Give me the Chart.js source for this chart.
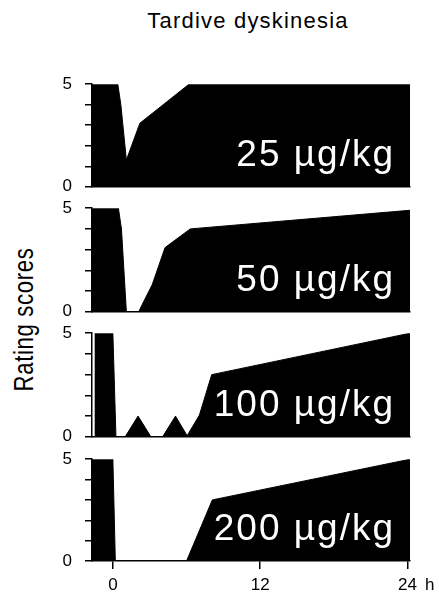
<!DOCTYPE html>
<html><head><meta charset="utf-8">
<script src="https://cdn.jsdelivr.net/npm/chart.js@4/dist/chart.umd.min.js"></script>
<style>
body{margin:0;background:#fff;width:439px;height:595px;overflow:hidden;position:relative;font-family:"Liberation Sans",sans-serif;color:#000;}
canvas{position:absolute;left:0;}
#title{position:absolute;top:10px;left:0;width:496px;text-align:center;font-size:22px;line-height:22px;letter-spacing:1.2px;white-space:nowrap;}
#ylab{position:absolute;left:-86px;top:306px;width:220px;height:27px;line-height:27px;font-size:27px;letter-spacing:0.8px;text-align:center;white-space:nowrap;transform:rotate(-90deg) scaleX(0.82);transform-origin:50% 50%;}
</style>
</head><body>
<div id="title">Tardive dyskinesia</div>
<div id="ylab">Rating scores</div>
<script>
// ---- data ----
const doseLabels = ["25 µg/kg", "50 µg/kg", "100 µg/kg", "200 µg/kg"];
const hours1  = [-1.7, 0.4, 0.65, 1.1, 2.2, 6.2, 24.2];
const scores1 = [5, 5, 4.0, 1.3, 3.1, 5, 5];
const hours2  = [-1.7, 0.45, 0.7, 1.1, 2.1, 2.6, 3.2, 4.25, 6.3, 24.2];
const scores2 = [5, 5, 4.0, 0, 0, 0.6, 1.3, 3.1, 4.0, 4.9];
const hours3  = [-1.5, 0.0, 0.25, 1.0, 2.05, 3.1, 4.05, 5.1, 6.05, 7.05, 8.05, 24.2];
const scores3 = [5, 5, 0, 0, 1, 0, 0, 1, 0.05, 1.05, 3.0, 5.0];
const hours4  = [-1.7, 0.0, 0.2, 6.0, 8.1, 24.2];
const scores4 = [5, 5, 0, 0, 3.0, 5.0];
const xTicks = [0, 12, 24];
const yTickLabels = [0, 5];
const xMin = -1.7, xMax = 24.2;

const panels = [
  {h: hours1, s: scores1, label: doseLabels[0], top: 61,  height: 149, last: false},
  {h: hours2, s: scores2, label: doseLabels[1], top: 185, height: 150, last: false},
  {h: hours3, s: scores3, label: doseLabels[2], top: 310, height: 150, last: false},
  {h: hours4, s: scores4, label: doseLabels[3], top: 436, height: 159, last: true}
];

const FONT = '"Liberation Sans", sans-serif';

panels.forEach((p, i) => {
  const c = document.createElement('canvas');
  c.width = 439; c.height = p.height;
  c.style.top = p.top + 'px';
  c.style.width = '439px'; c.style.height = p.height + 'px';
  document.body.appendChild(c);

  const labelPlugin = {
    id: 'dose' + i,
    afterDatasetsDraw(chart) {
      const ctx = chart.ctx, a = chart.chartArea;
      ctx.save();
      ctx.font = '37px ' + FONT;
      try { ctx.letterSpacing = '2px'; } catch (e) {}
      ctx.fillStyle = '#fff';
      ctx.textAlign = 'right';
      ctx.textBaseline = 'alphabetic';
      ctx.fillText(p.label, a.right - 15, a.bottom - 21);
      ctx.restore();
      if (p.last) {
        const xs = chart.scales.x;
        ctx.save();
        ctx.font = '17px ' + FONT;
        ctx.fillStyle = '#000';
        ctx.textAlign = 'left';
        ctx.textBaseline = 'middle';
        ctx.fillText('h', 425, xs.top + 8 + 6 + 10.2);
        ctx.restore();
      }
    }
  };

  new Chart(c, {
    type: 'line',
    data: {
      datasets: [{
        data: p.h.map((x, k) => ({x: x, y: p.s[k]})),
        fill: 'origin',
        backgroundColor: '#000',
        borderColor: '#000',
        borderWidth: 1,
        pointRadius: 0,
        tension: 0
      }]
    },
    options: {
      responsive: false,
      animation: false,
      devicePixelRatio: 1,
      layout: {padding: {top: 0, bottom: 0, left: 0, right: 29}},
      plugins: {legend: {display: false}, tooltip: {enabled: false}, title: {display: false}},
      scales: {
        x: {
          type: 'linear', min: xMin, max: xMax,
          afterBuildTicks: s => { s.ticks = xTicks.map(v => ({value: v})); },
          afterFit: s => { s.height = p.last ? 34 : 0; },
          ticks: {display: p.last, autoSkip: false, padding: 6, color: '#000', font: {family: FONT, size: 17},
                  callback: v => String(v)},
          grid: {drawOnChartArea: false, drawTicks: p.last, tickLength: 8, color: '#000', lineWidth: 1.5},
          border: {display: true, color: '#000', width: 1.5}
        },
        y: {
          min: 0, max: 5,
          afterFit: s => { s.width = 92; },
          ticks: {stepSize: 1, autoSkip: false, padding: 13, color: '#000', font: {family: FONT, size: 17},
                  callback: v => yTickLabels.includes(v) ? String(v) : ''},
          grid: {drawOnChartArea: false, drawTicks: true, tickLength: 7, color: '#000', lineWidth: 1.5},
          border: {display: true, color: '#000', width: 1.5}
        }
      }
    },
    plugins: [labelPlugin]
  });
});
</script>
</body></html>
